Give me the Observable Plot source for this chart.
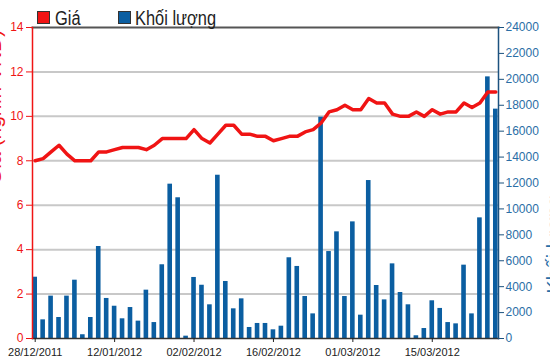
<!DOCTYPE html>
<html><head><meta charset="utf-8">
<script src="https://cdn.jsdelivr.net/npm/d3@7"></script>
<script src="https://cdn.jsdelivr.net/npm/@observablehq/plot@0.6"></script>
<style>
body{margin:0;background:#fff;}
#wrap{position:relative;width:550px;height:364px;overflow:hidden;font-family:"Liberation Sans",Arial,sans-serif;}
.sw{position:absolute;top:11px;width:11px;height:11px;border:1px solid #333;}
.lt{position:absolute;top:8px;font-size:20px;line-height:20px;color:#222;transform:scaleX(0.82);transform-origin:left top;white-space:nowrap;}
svg{position:absolute;left:0;top:0;}
</style></head><body><div id="wrap"></div>
<script>
const dates = ["28/12/2011","29/12/2011","30/12/2011","03/01/2012","04/01/2012","05/01/2012","06/01/2012","09/01/2012","10/01/2012","11/01/2012",
"12/01/2012","13/01/2012","16/01/2012","17/01/2012","18/01/2012","19/01/2012","20/01/2012","30/01/2012","31/01/2012","01/02/2012",
"02/02/2012","03/02/2012","06/02/2012","07/02/2012","08/02/2012","09/02/2012","10/02/2012","13/02/2012","14/02/2012","15/02/2012",
"16/02/2012","17/02/2012","20/02/2012","21/02/2012","22/02/2012","23/02/2012","24/02/2012","27/02/2012","28/02/2012","29/02/2012",
"01/03/2012","02/03/2012","05/03/2012","06/03/2012","07/03/2012","08/03/2012","09/03/2012","12/03/2012","13/03/2012","14/03/2012",
"15/03/2012","16/03/2012","19/03/2012","20/03/2012","21/03/2012","22/03/2012","23/03/2012","26/03/2012","27/03/2012"];
const price = [8.0,8.1,8.4,8.7,8.3,8.0,8.0,8.0,8.4,8.4,
8.5,8.6,8.6,8.6,8.5,8.7,9.0,9.0,9.0,9.0,
9.4,9.0,8.8,9.2,9.6,9.6,9.2,9.2,9.1,9.1,
8.9,9.0,9.1,9.1,9.3,9.4,9.7,10.2,10.3,10.5,
10.3,10.3,10.8,10.6,10.6,10.1,10.0,10.0,10.2,10.0,
10.3,10.1,10.2,10.2,10.6,10.4,10.6,11.1,11.1];
const volume = [4730,1440,3270,1620,3270,4500,290,1620,7100,3090,
2490,1520,2390,1340,3730,1230,5690,11910,10860,180,
4710,4110,2600,12600,4400,2290,3060,850,1160,1160,
670,950,6230,5560,3240,1900,17080,6710,8230,3240,
9000,1800,12190,4090,2980,5760,3550,2600,210,770,
2910,2320,1230,1130,5660,1900,9310,20190,17700];
const priceTicks = [0,2,4,6,8,10,12,14];
const gridTicks = [2,4,6,8,10,12];
const volumeTicks = [0,2000,4000,6000,8000,10000,12000,14000,16000,18000,20000,22000,24000];
const PRICE_MAX = 14, VOLUME_MAX = 24000;
const dateTicks = dates.filter((d, i) => i % 10 === 0);
const legendLabels = ["Giá", "Khối lượng"];
const leftTitle = "Giá (nghìn VNĐ)";
const rightTitle = "Khối lượng";

const RED = "#f01414", BLUE = "#0b5ea1";
const toP = v => v * PRICE_MAX / VOLUME_MAX;
const rows = dates.map((d, i) => ({date: d, price: price[i], volume: volume[i], vy: toP(volume[i])}));

const chart = Plot.plot({
  width: 550, height: 364,
  marginTop: 27, marginBottom: 26, marginLeft: 32, marginRight: 52,
  style: {fontFamily: "Liberation Sans, Arial, sans-serif", fontSize: "12px", background: "transparent"},
  x: {type: "band", domain: dates, paddingInner: 0.42, paddingOuter: 0.05, axis: null},
  y: {domain: [0, PRICE_MAX], axis: null},
  marks: [
    Plot.gridY(gridTicks, {stroke: "#c8c8c8", strokeOpacity: 1, strokeWidth: 2}),
    Plot.barY(rows, {x: "date", y: "vy", fill: BLUE}),
    Plot.line(rows, {x: "date", y: "price", stroke: RED, strokeWidth: 3.5}),
    Plot.frame({anchor: "top", stroke: "#555", strokeWidth: 2}),
    Plot.frame({anchor: "bottom", stroke: "#333", strokeWidth: 1.5}),
    Plot.frame({anchor: "left", stroke: RED, strokeWidth: 1.5}),
    Plot.frame({anchor: "right", stroke: "#1c527f", strokeWidth: 1.5}),
    Plot.axisY(priceTicks, {anchor: "left", tickSize: 6, tickPadding: 3, stroke: RED, fill: RED, fontSize: 12, label: null}),
    Plot.axisY(volumeTicks.map(toP), {anchor: "right", tickSize: 5, tickPadding: 2, stroke: "#1c527f", fill: "#2a6ea6", fontSize: 12, label: null,
      tickFormat: d => String(Math.round(d * VOLUME_MAX / PRICE_MAX))}),
    Plot.axisX(dateTicks, {anchor: "bottom", tickSize: 4, tickPadding: 6, stroke: "#222", fill: "#222", fontSize: 11, label: null}),
    Plot.text([leftTitle], {frameAnchor: "left", rotate: -90, dx: -38, dy: 2, fill: RED, fontSize: 21}),
    Plot.text([rightTitle], {frameAnchor: "right", rotate: -90, dx: 56, dy: 12, fill: "#2a6ea6", fontSize: 20})
  ]
});

const wrap = document.getElementById("wrap");
wrap.appendChild(chart);
const legend = [
  {label: legendLabels[0], color: RED, sw: 37, tx: 55},
  {label: legendLabels[1], color: BLUE, sw: 118, tx: 135}
];
for (const l of legend) {
  const s = document.createElement("div");
  s.className = "sw"; s.style.left = l.sw + "px"; s.style.background = l.color;
  wrap.appendChild(s);
  const t = document.createElement("div");
  t.className = "lt"; t.style.left = l.tx + "px"; t.textContent = l.label;
  wrap.appendChild(t);
}
</script></body></html>
